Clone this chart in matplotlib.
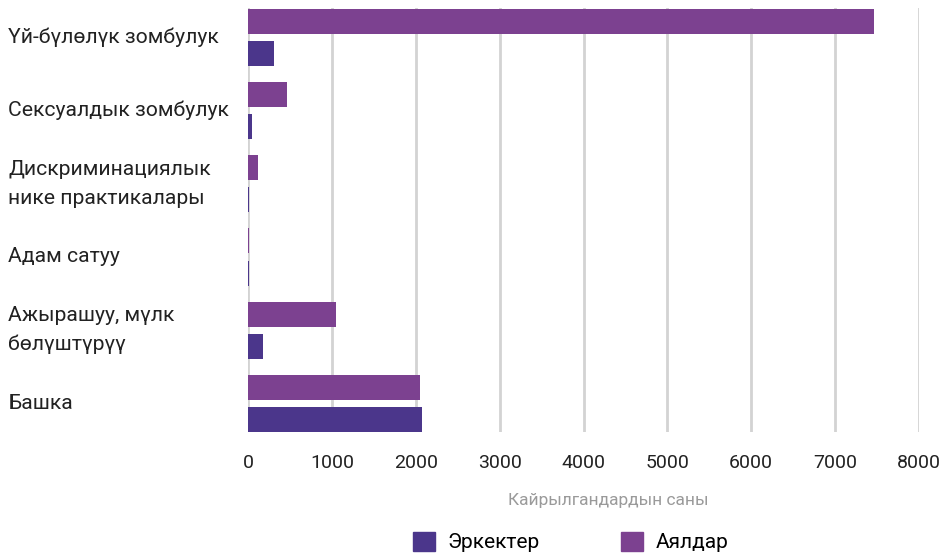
import matplotlib
matplotlib.use("Agg")
import matplotlib.pyplot as plt
import numpy as np
from matplotlib.patches import Patch

plt.rcParams['font.family'] = ['Roboto', 'DejaVu Sans']

# данные
categories = ['Үй-бүлөлүк зомбулук', 'Сексуалдык зомбулук',
              'Дискриминациялык\nнике практикалары', 'Адам сатуу',
              'Ажырашуу, мүлк\nбөлүштүрүү', 'Башка']
women = [7460, 465, 120, 10, 1050, 2050]   # Аялдар
men = [310, 45, 10, 10, 180, 2070]         # Эркектер
xticks = [0, 1000, 2000, 3000, 4000, 5000, 6000, 7000, 8000]

c_women = '#7C4190'
c_men = '#4B368B'

fig = plt.figure(figsize=(9.42, 5.56), dpi=100)
ax = fig.add_axes([248 / 942, 1 - 432 / 556, 671 / 942, 424 / 556])

y = np.arange(len(categories))
h = 0.34
off = 0.22
ax.barh(y - off, women, height=h, color=c_women, zorder=3)
ax.barh(y + off, men, height=h, color=c_men, zorder=3)

ax.set_xlim(0, 8000)
ax.set_ylim(5.39, -0.40)
ax.set_xticks(xticks)
ax.set_xticklabels([str(t) for t in xticks], fontsize=14, color='#222222')
ax.set_yticks([])
ax.tick_params(axis='x', length=0, pad=16)
ax.grid(axis='x', color='#d3d3d3', linewidth=2, zorder=0)
for s in ax.spines.values():
    s.set_visible(False)

# подписи категорий
for yi, lab in zip(y, categories):
    ax.text(-240 / 671, yi, lab, transform=ax.get_yaxis_transform(),
            ha='left', va='center', fontsize=15.2, color='#222222',
            linespacing=1.65)

fig.text(608 / 942, 1 - 501 / 556, 'Кайрылгандардын саны',
         ha='center', va='center', fontsize=12.5, color='#9a9a9a')

handles = [Patch(color=c_men, label='Эркектер'),
           Patch(color=c_women, label='Аялдар')]
fig.legend(handles=handles, loc='center', bbox_to_anchor=(571 / 942, 1 - 542 / 556),
           ncol=2, frameon=False, fontsize=15, handlelength=1.05, handleheight=1.05,
           columnspacing=3.9, handletextpad=0.6)

fig.savefig('out.png', dpi=100)
